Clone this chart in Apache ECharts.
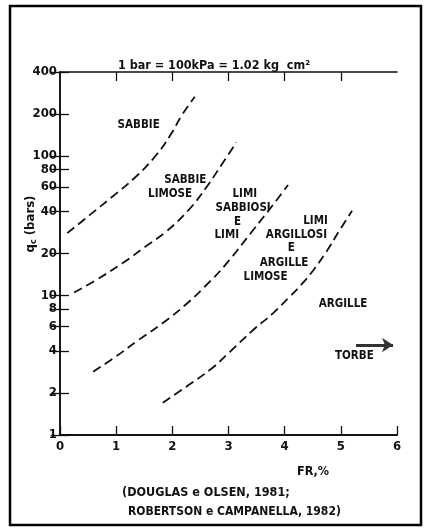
<!DOCTYPE html>
<html>
<head>
<meta charset="utf-8">
<script src="https://cdn.jsdelivr.net/npm/echarts@6/dist/echarts.min.js"></script>
<style>html,body{margin:0;padding:0;background:#fff}#c{width:428px;height:532px}</style>
</head>
<body>
<div id="c"></div>
<script>
// ---- data ----
const curve1X = [0.13, 0.52, 0.93, 1.35, 1.70, 1.96, 2.17, 2.40];
const curve1Y = [28, 37.5, 51, 71, 100, 140, 196, 266];
const curve2X = [0.25, 0.64, 1.11, 1.52, 1.88, 2.29, 2.61, 2.88, 3.14];
const curve2Y = [10.5, 12.9, 17.0, 22.4, 28.5, 41, 60, 87, 125];
const curve3X = [0.59, 0.99, 1.40, 1.82, 2.23, 2.58, 2.94, 3.44, 3.79, 4.06];
const curve3Y = [2.84, 3.64, 4.80, 6.3, 8.55, 11.6, 16.5, 29.5, 44.5, 62];
const curve4X = [1.83, 2.29, 2.70, 3.03, 3.44, 3.79, 4.09, 4.30, 4.50, 4.74, 4.97, 5.20];
const curve4Y = [1.70, 2.28, 3.0, 3.96, 5.66, 7.45, 9.8, 12.0, 15.0, 20.5, 29, 40.5];

const yTicks = [1, 2, 4, 6, 8, 10, 20, 40, 60, 80, 100, 200, 400];
const xTicks = [0, 1, 2, 3, 4, 5, 6];
const topTicks = [1, 2, 3, 4, 5];

const labelText = ['SABBIE', 'SABBIE', 'LIMOSE', 'LIMI', 'SABBIOSI', 'E', 'LIMI',
  'LIMI', 'ARGILLOSI', 'E', 'ARGILLE', 'LIMOSE', 'ARGILLE', 'TORBE'];
const labelX = [1.40, 2.23, 1.96, 3.29, 3.26, 3.16, 2.97, 4.55, 4.21, 4.12, 3.99, 3.66, 5.04, 5.24];
const labelY = [167, 67.3, 53.4, 53.4, 42.2, 33.8, 27.1, 34.2, 27.1, 21.8, 17.2, 13.6, 8.69, 3.68];

const arrowX = [5.27, 5.93];
const arrowY = [4.42, 4.42];

const titleText = '1 bar = 100kPa = 1.02 kg  cm²';
const xName = 'FR,%';
const caption1 = '(DOUGLAS e OLSEN, 1981;';
const caption2 = 'ROBERTSON e CAMPANELLA, 1982)';

// ---- chart ----
const FONT = "'DejaVu Sans Condensed', 'Liberation Sans Narrow', sans-serif";
const INK = '#111';
const zip = (xs, ys) => xs.map((x, i) => [x, ys[i]]);

const curveSeries = [[curve1X, curve1Y], [curve2X, curve2Y], [curve3X, curve3Y], [curve4X, curve4Y]]
  .map(([xs, ys]) => ({
    type: 'line', data: zip(xs, ys), smooth: 0.45, symbol: 'none', silent: true,
    lineStyle: { color: INK, width: 1.8, type: [9, 5] }
  }));

const axisLineStyle = { show: true, lineStyle: { color: INK, width: 1.6 } };
const tickStyle = { show: true, inside: true, length: 9, lineStyle: { color: INK, width: 1.3 } };

const chart = echarts.init(document.getElementById('c'), null, { renderer: 'canvas' });
chart.setOption({
  animation: false,
  backgroundColor: '#fff',
  textStyle: { fontFamily: FONT },
  title: {
    text: titleText, left: 'center', top: 54,
    textStyle: { fontFamily: FONT, fontSize: 12.5, fontWeight: 'bold', color: INK }
  },
  grid: { left: 60, right: 31, top: 72, bottom: 97 },
  xAxis: [{
    type: 'value', min: 0, max: 6, interval: 1, position: 'bottom',
    axisLine: { show: true, lineStyle: { color: INK, width: 2 } },
    axisTick: tickStyle, splitLine: { show: false },
    axisLabel: { customValues: xTicks, margin: 5, fontFamily: FONT, fontSize: 13, fontWeight: 'bold', color: INK }
  }, {
    type: 'value', min: 0, max: 6, interval: 1, position: 'top',
    axisLine: axisLineStyle,
    axisTick: Object.assign({}, tickStyle, { customValues: topTicks }),
    splitLine: { show: false }, axisLabel: { show: false }
  }],
  yAxis: [{
    type: 'log', logBase: 10, min: 1, max: 400, position: 'left',
    axisLine: axisLineStyle,
    axisTick: Object.assign({}, tickStyle, { customValues: yTicks }),
    minorTick: { show: false }, splitLine: { show: false },
    axisLabel: { customValues: yTicks, margin: 3, fontFamily: FONT, fontSize: 13, fontWeight: 'bold', color: INK }
  }, {
    type: 'log', logBase: 10, min: 1, max: 400, position: 'right',
    axisLine: axisLineStyle,
    axisTick: Object.assign({}, tickStyle, { customValues: yTicks }),
    splitLine: { show: false }, axisLabel: { show: false }
  }],
  series: curveSeries.concat([{
    type: 'scatter', symbolSize: 0, silent: true,
    data: labelText.map((t, i) => ({ name: t, value: [labelX[i], labelY[i]] })),
    label: {
      show: true, position: 'inside', formatter: '{b}',
      fontFamily: FONT, fontSize: 11.5, fontWeight: 'bold', color: INK,
      textBorderWidth: 0, textBorderColor: 'transparent', opacity: 1
    },
    markLine: {
      silent: true, symbol: ['none', 'arrow'], symbolSize: 11,
      label: { show: false },
      lineStyle: { color: '#333', width: 3, type: 'solid' },
      data: [[{ coord: [arrowX[0], arrowY[0]] }, { coord: [arrowX[1], arrowY[1]] }]]
    }
  }]),
  graphic: [
    { type: 'rect', shape: { x: 10, y: 6, width: 411, height: 519 }, style: { fill: 'none', stroke: '#000', lineWidth: 2.5 }, silent: true },
    { type: 'text', x: 31, y: 224, rotation: Math.PI / 2, silent: true,
      style: { text: 'q{sub|c} (bars)', fontFamily: FONT, fontSize: 13, fontWeight: 'bold', fill: INK, align: 'center', verticalAlign: 'middle',
        rich: { sub: { fontFamily: FONT, fontSize: 9, fontWeight: 'bold', fill: INK, verticalAlign: 'bottom', padding: [6, 0, 0, 0] } } } },
    { type: 'text', x: 313, y: 472, silent: true,
      style: { text: xName, fontFamily: FONT, fontSize: 12.5, fontWeight: 'bold', fill: INK, align: 'center', verticalAlign: 'middle' } },
    { type: 'text', x: 122, y: 493, silent: true,
      style: { text: caption1, fontFamily: FONT, fontSize: 12.5, fontWeight: 'bold', fill: INK, align: 'left', verticalAlign: 'middle' } },
    { type: 'text', x: 128, y: 512, silent: true,
      style: { text: caption2, fontFamily: FONT, fontSize: 12, fontWeight: 'bold', fill: INK, align: 'left', verticalAlign: 'middle' } }
  ]
});
</script>
</body>
</html>
